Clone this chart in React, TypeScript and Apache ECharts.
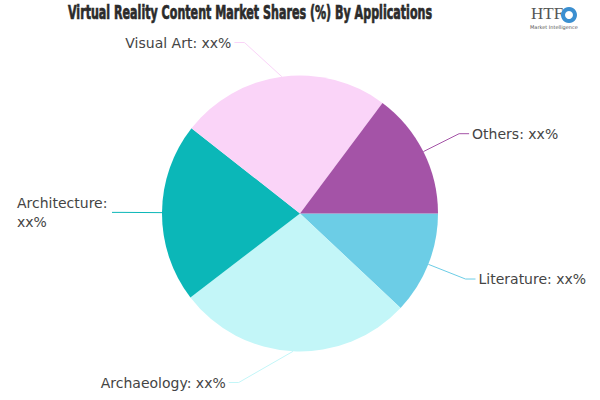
import React, { useEffect, useRef } from "react";
import * as echarts from "echarts";

const categories = ["Literature", "Archaeology", "Architecture", "Visual Art", "Others"];
const values = [12.0, 27.6, 21.0, 24.6, 14.8];
const colors = ["#6ccde6", "#c3f6f8", "#0bb7b8", "#fad4f8", "#a453a7"];
const titleText = "Virtual Reality Content Market Shares (%) By Applications";

const TITLE_FONT = "bold 19px 'Liberation Sans Narrow', 'DejaVu Sans Condensed', sans-serif";
const LABEL_SIZE = 14;
const LABEL_FONT = LABEL_SIZE + "px 'DejaVu Sans', sans-serif";

const CX = 300;
const CY = 213.5;
const R = 138;
const L1 = 40;
const L2 = 10;
const LABEL_TOP = 33;
const LABEL_BOTTOM = 392;
const ELLIPSE_B = R + L1 + 2;

function measure(text: string, font: string): number {
  const c = document.createElement("canvas");
  const ctx = c.getContext("2d");
  if (!ctx) return 100;
  ctx.font = font;
  return ctx.measureText(text).width;
}

export default function App() {
  const ref = useRef<HTMLDivElement>(null);
  useEffect(() => {
    if (!ref.current) return;
    const chart = echarts.init(ref.current, null, { renderer: "svg" });
    const sx = 364 / measure(titleText, TITLE_FONT);
    const archW = Math.ceil(measure("Architecture:", LABEL_FONT)) + 1;
    const labelStyle = {
      fontFamily: "'DejaVu Sans', sans-serif",
      fontSize: LABEL_SIZE,
      color: "#444444",
      lineHeight: 19,
    };
    chart.setOption({
      animation: false,
      backgroundColor: "#ffffff",
      graphic: [
        {
          type: "text",
          x: 250,
          y: 3,
          scaleX: sx,
          originX: 0,
          style: {
            text: titleText,
            font: TITLE_FONT,
            fill: "#2b2b2b",
            stroke: "#2b2b2b",
            lineWidth: 0.7,
            align: "center",
            verticalAlign: "top",
          },
        },
        {
          type: "text",
          x: 531,
          y: 5,
          style: { text: "HTF", font: "17px 'Liberation Serif', serif", fill: "#555555" },
        },
        {
          type: "ring",
          shape: { cx: 569, cy: 15, r: 8, r0: 4 },
          style: { fill: "#3b8fd0" },
        },
        {
          type: "text",
          x: 530,
          y: 24,
          style: { text: "Market Intelligence", font: "5px 'DejaVu Sans', sans-serif", fill: "#555555" },
        },
      ],
      series: [
        {
          type: "pie",
          left: 0,
          top: 0,
          width: 600,
          height: 400,
          center: [CX, CY],
          radius: R,
          startAngle: 0,
          clockwise: true,
          data: categories.map((c, i) => ({
            name: c,
            value: values[i],
            itemStyle: { color: colors[i] },
          })),
          label: {
            formatter: (p: any) =>
              p.name === "Architecture" ? "{w|" + p.name + ":}\n{w|xx%}" : p.name + ": xx%",
            ...labelStyle,
            distanceToLabelLine: 3,
            rich: {
              w: { ...labelStyle, width: archW, align: "left" },
            },
          },
          labelLine: { length: L1, length2: L2, lineStyle: { width: 1 } },
          labelLayout: (params: any) => {
            const pts = params.labelLinePoints;
            if (!pts || pts.length < 3) return {};
            const p0 = pts[0];
            const rA = R + L1;
            const h = params.labelRect ? params.labelRect.height : 19;
            const natural = CY + ((p0[1] - CY) * rA) / R;
            const y = Math.min(Math.max(natural, LABEL_TOP + h / 2), LABEL_BOTTOM - h / 2);
            const dir = p0[0] < CX ? -1 : 1;
            const shifted = Math.abs(y - natural) > 0.5;
            const rB = shifted ? ELLIPSE_B : rA;
            const dy = Math.min(Math.abs(y - CY), rB);
            const dx = Math.sqrt(1 - (dy * dy) / (rB * rB)) * rA;
            const x1 = CX + dir * dx;
            const x2 = x1 + dir * L2;
            return {
              x: x2 + dir * 3,
              y,
              align: dir < 0 ? "right" : "left",
              verticalAlign: "middle",
              labelLinePoints: [p0, [x1, y], [x2, y]],
            };
          },
          emphasis: { disabled: true },
        },
      ],
    });
    return () => chart.dispose();
  }, []);
  return (
    <div
      ref={ref}
      style={{ position: "absolute", left: 0, top: 0, width: 600, height: 400 }}
    />
  );
}
